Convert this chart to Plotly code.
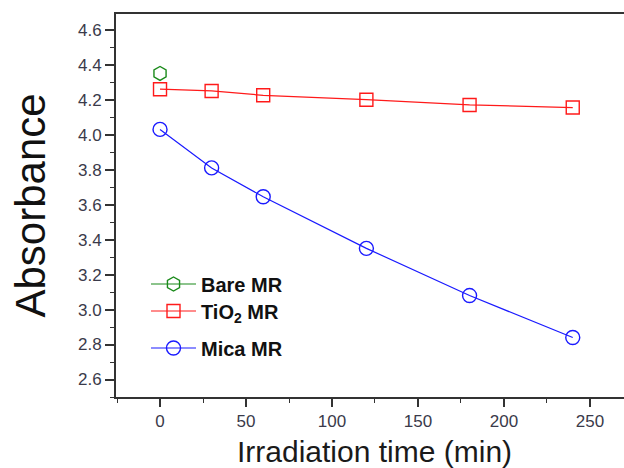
import plotly.graph_objects as go

time_min = [0, 30, 60, 120, 180, 240]
bare_x = [0]
bare_y = [4.35]
tio2_y = [4.26, 4.25, 4.225, 4.20, 4.17, 4.155]
mica_y = [4.03, 3.81, 3.645, 3.35, 3.08, 2.84]

y_ticks = [2.6, 2.8, 3.0, 3.2, 3.4, 3.6, 3.8, 4.0, 4.2, 4.4, 4.6]
x_ticks = [0, 50, 100, 150, 200, 250]

FONT = "Liberation Sans, Arial"
L, R, T, B = 116, 0, 14, 71
PW, PH = 624 - L - R, 468 - T - B

fig = go.Figure()
fig.add_trace(go.Scatter(
    x=bare_x, y=bare_y, mode="lines+markers", name="Bare MR",
    line=dict(color="#1a8a1a", width=1.2),
    marker=dict(symbol="hexagon-open", size=14, color="#1a8a1a", line=dict(width=1.4)),
    legend="legend"))
fig.add_trace(go.Scatter(
    x=time_min, y=tio2_y, mode="lines+markers", name="TiO<sub>2</sub> MR",
    line=dict(color="#ff1a1a", width=1.2),
    marker=dict(symbol="square-open", size=13, color="#ff1a1a", line=dict(width=1.4)),
    legend="legend2"))
fig.add_trace(go.Scatter(
    x=time_min, y=mica_y, mode="lines+markers", name="Mica MR",
    line=dict(color="#1a1aff", width=1.2),
    marker=dict(symbol="circle-open", size=14, color="#1a1aff", line=dict(width=1.4)),
    legend="legend3"))

legend_font = dict(family=FONT, size=20, color="#111111", weight="bold")
common_legend = dict(font=legend_font, bgcolor="rgba(0,0,0,0)", xanchor="left", yanchor="middle",
                     itemwidth=45, tracegroupgap=0)


def py(pix):
    return 1 - (pix - T) / PH


def px(pix):
    return (pix - L) / PW


fig.update_layout(
    width=624, height=468,
    margin=dict(l=L, r=R, t=T, b=B),
    paper_bgcolor="white", plot_bgcolor="white",
    showlegend=True,
    legend=dict(x=px(146), y=py(284), **common_legend),
    legend2=dict(x=px(146), y=py(311), **common_legend),
    legend3=dict(x=px(146), y=py(348), **common_legend),
    xaxis=dict(
        range=[-25.6, 269.8], tickvals=x_ticks, ticks="outside", ticklen=8, tickwidth=1.5,
        tickcolor="#333333", showline=True, linecolor="#333333", linewidth=2, mirror=True,
        showgrid=False, zeroline=False, automargin=False,
        minor=dict(dtick=25, tick0=0, ticks="outside", ticklen=4, tickwidth=1.2, tickcolor="#333333"),
        tickfont=dict(family=FONT, size=17, color="#3a3a4a"),
    ),
    yaxis=dict(
        range=[2.5, 4.69], tickvals=y_ticks, tickformat=".1f", ticks="outside", ticklen=9, tickwidth=1.5,
        tickcolor="#333333", showline=True, linecolor="#333333", linewidth=2, mirror=False,
        showgrid=False, zeroline=False, automargin=False,
        minor=dict(dtick=0.1, tick0=0, ticks="outside", ticklen=4, tickwidth=1.2, tickcolor="#333333"),
        tickfont=dict(family=FONT, size=17, color="#3a3a4a"),
    ),
    annotations=[
        dict(text="Absorbance", xref="paper", yref="paper", x=px(30), y=0.5,
             xanchor="center", yanchor="middle", textangle=-90, showarrow=False,
             font=dict(family=FONT, size=42, color="#111111")),
        dict(text="Irradiation time (min)", xref="paper", yref="paper", x=px(374), y=py(451),
             xanchor="center", yanchor="middle", showarrow=False,
             font=dict(family=FONT, size=30, color="#1a1a1a")),
    ],
)

fig.write_html("out.html", config={"displayModeBar": False},
               post_script="document.body.style.margin='0px';document.body.style.overflow='hidden';")
